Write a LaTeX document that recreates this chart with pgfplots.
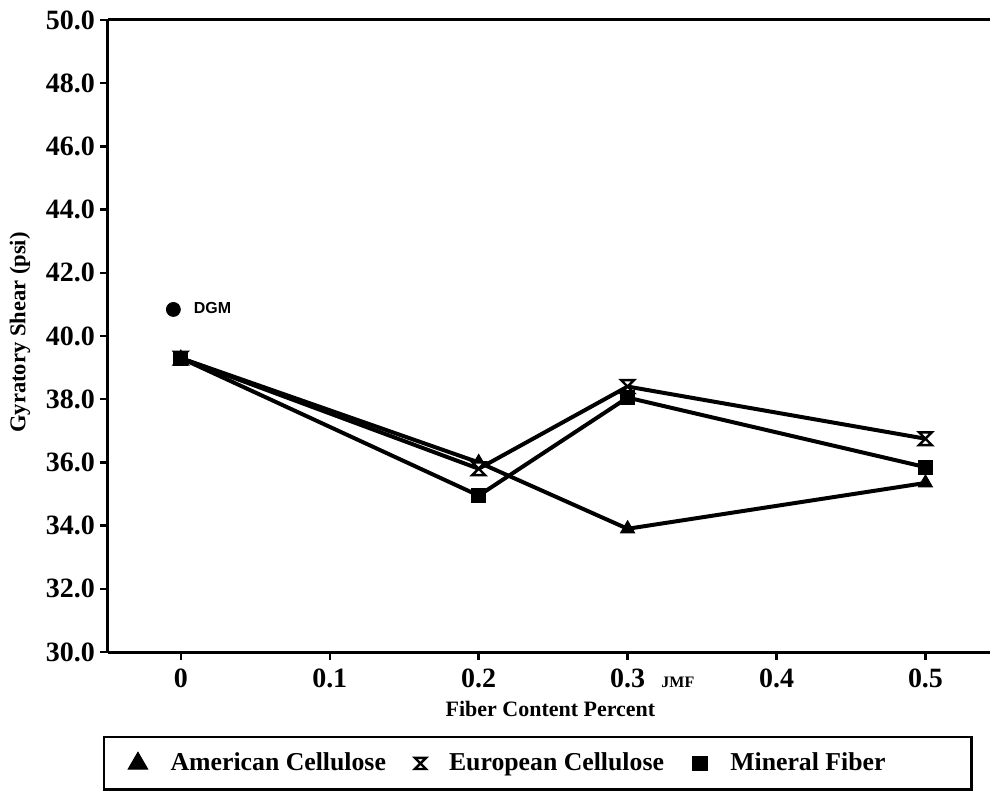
\documentclass[border=0pt]{standalone}
\usepackage{fontspec}
\setmainfont{Liberation Serif}
\newfontfamily\sansf{Liberation Sans}
\usepackage{pgfplots}
\pgfplotsset{compat=1.18}
\pgfdeclareplotmark{hourglass}{%
 \pgfpathmoveto{\pgfqpoint{-\pgfplotmarksize}{\pgfplotmarksize}}%
 \pgfpathlineto{\pgfqpoint{\pgfplotmarksize}{\pgfplotmarksize}}%
 \pgfpathlineto{\pgfqpoint{-\pgfplotmarksize}{-\pgfplotmarksize}}%
 \pgfpathlineto{\pgfqpoint{\pgfplotmarksize}{-\pgfplotmarksize}}%
 \pgfpathclose
 \pgfusepathqfillstroke}
\begin{document}
\begin{tikzpicture}
\begin{axis}[
 scale only axis, width=441.5pt, height=316.5pt,
 xmin=-0.049, xmax=0.543, ymin=30, ymax=50,
 axis lines*=left, axis line style={line width=1.5pt, -},
 xtick={0,0.1,0.2,0.3,0.4,0.5}, xticklabels={0,0.1,0.2,0.3,0.4,0.5},
 ytick={30,32,34,36,38,40,42,44,46,48,50},
 yticklabels={30.0,32.0,34.0,36.0,38.0,40.0,42.0,44.0,46.0,48.0,50.0},
 tick align=outside, major tick length=4pt, tick style={line width=1.2pt, black},
 /pgf/number format/assume math mode=true,
 ticklabel style={font=\fontsize{14}{16}\selectfont\bfseries},
 yticklabel style={xshift=1pt},
 xticklabel style={yshift=-1pt},
 xlabel={Fiber Content Percent},
 xlabel style={font=\fontsize{11}{12}\selectfont\bfseries, at={(axis description cs:0.502,0)}, anchor=center, yshift=-28.5pt},
 ylabel={Gyratory Shear (psi)},
 ylabel style={font=\fontsize{11.3}{12}\selectfont\bfseries, at={(axis description cs:-0.0997,0.5055)}, anchor=center},
 clip=false,
 legend columns=3,
 legend style={draw=none, fill=none, inner sep=0pt, at={(axis description cs:0.0227,-0.1763)}, anchor=west,
   font=\fontsize{12.9}{14}\selectfont\bfseries,
   /tikz/every odd column/.append style={column sep=9.5pt},
   /tikz/every even column/.append style={column sep=12.5pt}},
 legend image code/.code={\draw[#1] plot coordinates {(0.25cm,0cm)};},
]
\addplot[black, line width=2pt, mark=triangle*, mark size=4pt, mark options={line width=0.5pt},
 legend image post style={mark size=5.6pt}]
 coordinates {(0,39.3) (0.2,36.0) (0.3,33.9) (0.5,35.35)};
\addlegendentry{American Cellulose}
\addplot[black, line width=2pt, mark=hourglass, mark size=3.2pt, mark options={line width=1.2pt, fill=white},
 legend image post style={mark size=2.8pt}]
 coordinates {(0,39.3) (0.2,35.8) (0.3,38.4) (0.5,36.75)};
\addlegendentry{European Cellulose}
\addplot[black, line width=2pt, mark=square*, mark size=3.5pt, mark options={line width=0.5pt},
 legend image post style={mark size=3.6pt}]
 coordinates {(0,39.3) (0.2,34.95) (0.3,38.05) (0.5,35.85)};
\addlegendentry{Mineral Fiber}
\addplot[black, only marks, mark=*, mark size=3.5pt, forget plot] coordinates {(-0.005,40.84)};
\node[anchor=west, font=\sansf\fontsize{8}{9}\selectfont\bfseries] at (axis cs:0.004,40.9) {DGM};
\node[anchor=west, font=\fontsize{8}{9}\selectfont\bfseries] at (axis cs:0.318,30) [yshift=-15pt] {JMF};
\draw[line width=1.5pt] (rel axis cs:0,1) -- (rel axis cs:1,1);
\draw[line width=1.2pt] (rel axis cs:-0.0045,-0.1343) rectangle (rel axis cs:0.9796,-0.2175);
\end{axis}
\path (-54pt,-70pt) rectangle (441.5pt,326.5pt);
\end{tikzpicture}
\end{document}
